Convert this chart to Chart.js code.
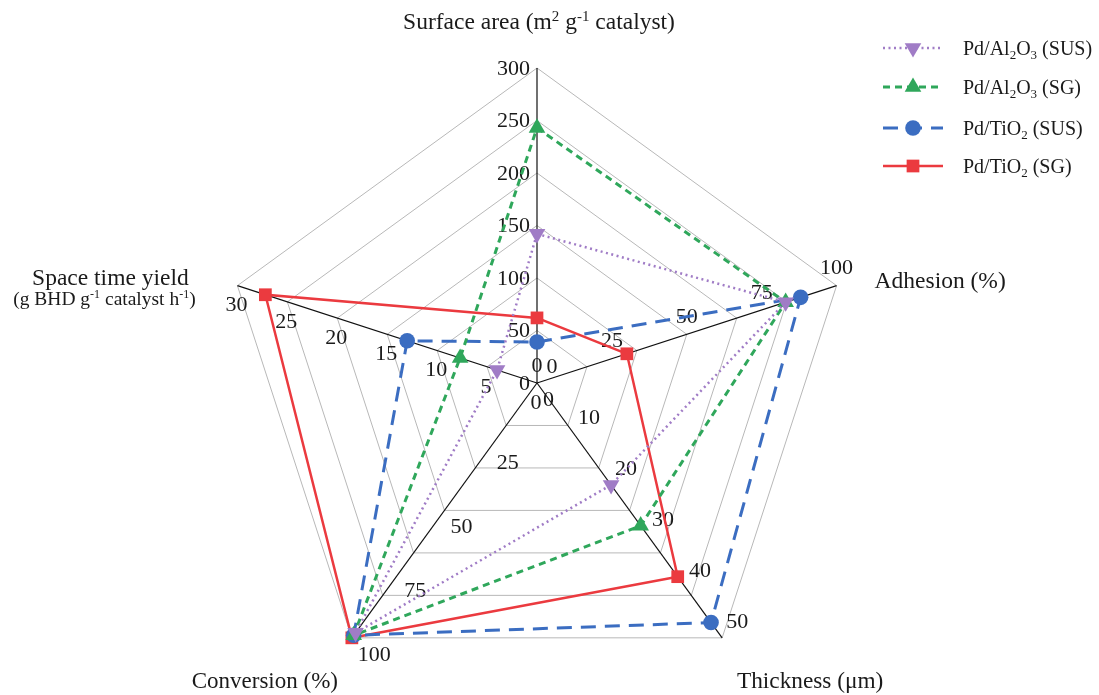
<!DOCTYPE html>
<html>
<head>
<meta charset="utf-8">
<script src="https://cdn.jsdelivr.net/npm/chart.js@4.4.1/dist/chart.umd.min.js"></script>
<style>
  html, body { margin: 0; padding: 0; background: #fff; overflow: hidden; width: 1099px; height: 695px; }
  canvas { display: block; }
</style>
</head>
<body>
<canvas id="radar" width="1099" height="760"></canvas>
<script>
// Five property axes, each with its own full-scale value
const axisKeys = ['surface', 'adhesion', 'thickness', 'conversion', 'sty'];
const axisMax = [300, 100, 50, 100, 30];

// Tick labels printed along each axis
const surfaceTicks = [0, 50, 100, 150, 200, 250, 300];
const adhesionTicks = [0, 25, 50, 75, 100];
const thicknessTicks = [0, 10, 20, 30, 40, 50];
const conversionTicks = [0, 25, 50, 75, 100];
const styTicks = [0, 5, 10, 15, 20, 25, 30];

// Series values in axis order: surface area, adhesion, thickness, conversion, space time yield
const alSUS = [142, 83, 20, 98, 4.0];
const alSG = [243, 83, 28, 99, 7.7];
const tiSUS = [39, 88, 47, 99, 13];
const tiSG = [62, 30, 38, 100, 27.2];

const RINGS = 6;           // number of grid rings
const SERIF = '"Liberation Serif", "Times New Roman", serif';

// Values are expressed as a fraction of each axis' full scale, on a 0..RINGS radial scale
const toRadial = vals => vals.map((v, i) => v / axisMax[i] * RINGS);

const series = [
  { name: [['Pd/Al', ''], ['2', 'sub'], ['O', ''], ['3', 'sub'], [' (SUS)', '']], values: alSUS,
    color: '#a07cc6', dash: [2, 3.5], width: 2.5, style: 'triangle', rotation: 180, radius: 9.6 },
  { name: [['Pd/Al', ''], ['2', 'sub'], ['O', ''], ['3', 'sub'], [' (SG)', '']], values: alSG,
    color: '#2fa75b', dash: [7, 5], width: 3, style: 'triangle', rotation: 0, radius: 9.6 },
  { name: [['Pd/TiO', ''], ['2', 'sub'], [' (SUS)', '']], values: tiSUS,
    color: '#3b6dc1', dash: [15, 9], width: 3, style: 'circle', rotation: 0, radius: 7.8 },
  { name: [['Pd/TiO', ''], ['2', 'sub'], [' (SG)', '']], values: tiSG,
    color: '#eb3a3f', dash: [], width: 2.5, style: 'rect', rotation: 0, radius: 9 }
];

// Draws a run of text where pieces may be superscript or subscript
function drawRich(ctx, parts, x, y, size, align) {
  const fontFor = k => `${k ? Math.round(size * 0.64) : size}px ${SERIF}`;
  let total = 0;
  const widths = parts.map(([t, k]) => {
    ctx.font = fontFor(k);
    const w = ctx.measureText(t).width;
    total += w;
    return w;
  });
  let cx = align === 'center' ? x - total / 2 : align === 'right' ? x - total : x;
  ctx.textAlign = 'left';
  ctx.textBaseline = 'alphabetic';
  parts.forEach(([t, k], i) => {
    ctx.font = fontFor(k);
    const dy = k === 'sup' ? -size * 0.36 : k === 'sub' ? size * 0.22 : 0;
    ctx.fillText(t, cx, y + dy);
    cx += widths[i];
  });
}

// Per-axis tick label placement relative to the tick's point on the axis
const axisTicks = [surfaceTicks, adhesionTicks, thicknessTicks, conversionTicks, styTicks];
const tickPlacement = [
  { align: 'right', dx: -7, dy: 1 },
  { align: 'center', dx: 0, dy: -17 },
  { align: 'center', dx: 15, dy: -16 },
  { align: 'left', dx: 6, dy: 17 },
  { align: 'center', dx: -1, dy: 20 }
];

// Axis titles, placed relative to the end of each axis
const axisTitles = [
  { lines: [{ parts: [['Surface area (m', ''], ['2', 'sup'], [' g', ''], ['-1', 'sup'], [' catalyst)', '']], dx: 2, dy: -39, size: 23.5 }], align: 'center' },
  { lines: [{ parts: [['Adhesion (%)', '']], dx: 38, dy: 2, size: 23.5 }], align: 'left' },
  { lines: [{ parts: [['Thickness (\u03bcm)', '']], dx: 88, dy: 50, size: 23.3 }], align: 'center' },
  { lines: [{ parts: [['Conversion (%)', '']], dx: -87, dy: 50, size: 23 }], align: 'center' },
  { lines: [
      { parts: [['Space time yield', '']], dx: -127, dy: -1, size: 23.5 },
      { parts: [['(g BHD g', ''], ['-1', 'sup'], [' catalyst h', ''], ['-1', 'sup'], [')', '']], dx: -133, dy: 19, size: 19.5 }
    ], align: 'center' }
];

const axisTextPlugin = {
  id: 'axisText',
  beforeDatasetsDraw(chart) {
    const scale = chart.scales.r;
    const ctx = chart.ctx;
    ctx.save();
    ctx.fillStyle = '#1a1a1a';
    ctx.font = `22px ${SERIF}`;
    ctx.textBaseline = 'middle';
    axisTicks.forEach((ticks, i) => {
      const pl = tickPlacement[i];
      ctx.textAlign = pl.align;
      ticks.forEach(v => {
        const p = scale.getPointPositionForValue(i, v / axisMax[i] * RINGS);
        ctx.fillText(String(v), p.x + pl.dx, p.y + pl.dy);
      });
    });
    ctx.restore();
  },
  afterDraw(chart) {
    const scale = chart.scales.r;
    const ctx = chart.ctx;
    ctx.save();
    ctx.fillStyle = '#1a1a1a';
    axisTitles.forEach((t, i) => {
      const end = scale.getPointPositionForValue(i, RINGS);
      t.lines.forEach(line => drawRich(ctx, line.parts, end.x + line.dx, end.y + line.dy, line.size, t.align));
    });

    // Legend: line sample with its marker, then the series name
    const lx0 = 883, lx1 = 943, lmx = 913, tx = 963;
    const rowY = [48, 87, 128, 166];
    series.forEach((s, i) => {
      const y = rowY[i];
      ctx.save();
      ctx.strokeStyle = s.color;
      ctx.lineWidth = s.width;
      ctx.setLineDash(s.dash);
      ctx.beginPath();
      ctx.moveTo(lx0, y);
      ctx.lineTo(lx1, y);
      ctx.stroke();
      ctx.setLineDash([]);
      ctx.fillStyle = s.color;
      ctx.strokeStyle = s.color;
      Chart.helpers.drawPoint(ctx, { pointStyle: s.style, rotation: s.rotation, radius: s.radius, borderWidth: 0 }, lmx, y);
      ctx.restore();
      drawRich(ctx, s.name, tx, y + 7, 20, 'left');
    });
    ctx.restore();
  }
};

new Chart(document.getElementById('radar'), {
  type: 'radar',
  data: {
    labels: axisKeys,
    datasets: series.map(s => ({
      label: s.name.map(p => p[0]).join(''),
      data: toRadial(s.values),
      borderColor: s.color,
      backgroundColor: s.color,
      borderWidth: s.width,
      borderDash: s.dash,
      borderCapStyle: 'butt',
      fill: false,
      tension: 0,
      pointStyle: s.style,
      pointRotation: s.rotation,
      pointRadius: s.radius,
      pointBorderWidth: 0,
      pointBackgroundColor: s.color,
      pointBorderColor: s.color
    }))
  },
  options: {
    responsive: false,
    animation: false,
    devicePixelRatio: 1,
    layout: { padding: { left: 222, right: 247, top: 68, bottom: 62 } },
    plugins: { legend: { display: false }, tooltip: { enabled: false } },
    scales: {
      r: {
        min: 0,
        max: RINGS,
        ticks: { display: false, stepSize: 1 },
        grid: { color: '#b8b8b8', lineWidth: 1 },
        angleLines: { color: '#111', lineWidth: 1.2 },
        pointLabels: { display: false }
      }
    }
  },
  plugins: [axisTextPlugin]
});
</script>
</body>
</html>
